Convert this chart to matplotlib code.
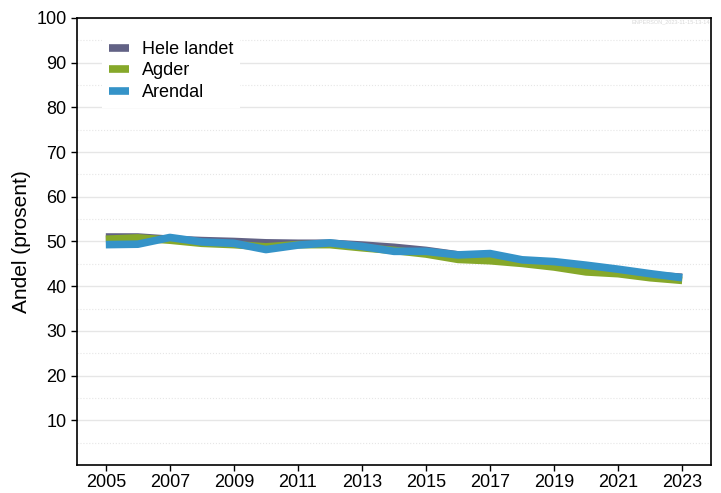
import numpy as np
import matplotlib.pyplot as plt
from matplotlib.ticker import MultipleLocator

plt.rcParams['font.family'] = ['Liberation Sans', 'DejaVu Sans']

# ===== Data =====
years = list(range(2005, 2024))
hele_landet = [51.0, 51.0, 50.5, 50.2, 50.0, 49.7, 49.6, 49.6, 49.2, 48.7,
               48.0, 47.0, 46.6, 45.6, 45.0, 44.0, 43.5, 42.5, 42.0]
agder = [50.5, 50.8, 50.3, 49.6, 49.3, 48.8, 49.3, 49.3, 48.6, 48.0,
         47.2, 46.0, 45.7, 45.1, 44.3, 43.2, 42.8, 41.9, 41.3]
arendal = [49.3, 49.4, 50.9, 49.9, 49.6, 48.2, 49.2, 49.7, 48.9, 47.8,
           47.8, 47.0, 47.3, 45.9, 45.5, 44.7, 43.8, 42.8, 41.9]

series = [('Hele landet', hele_landet, '#626285'),
          ('Agder', agder, '#86a82a'),
          ('Arendal', arendal, '#3593c8')]

fig = plt.figure(figsize=(7.21, 4.93), dpi=100)
ax = fig.add_axes([77/721, 28/493, 634/721, 447/493])

for label, vals, col in series:
    ax.plot(years, vals, color=col, lw=5.5, label=label,
            solid_joinstyle='round', solid_capstyle='butt')

ax.set_xlim(2004.1, 2023.9)
ax.set_ylim(0, 100)
ax.set_xticks(range(2005, 2024, 2))
ax.yaxis.set_minor_locator(MultipleLocator(5))
ax.set_yticks(range(10, 101, 10))
ax.grid(axis='y', which='major', color='#e6e6e6', lw=1)
ax.grid(axis='y', which='minor', color='#e6e6e6', lw=0.8, ls=':')
ax.set_axisbelow(True)
ax.tick_params(axis='both', labelsize=13, length=4, width=1)
ax.tick_params(axis='x', pad=2.5)
ax.tick_params(axis='y', which='minor', length=0)
for s in ax.spines.values():
    s.set_linewidth(1.2)

ax.set_ylabel('Andel (prosent)', fontsize=15)

leg = ax.legend(loc='upper left', bbox_to_anchor=(0.025, 0.985), frameon=True,
                fontsize=13, handlelength=1.1, handleheight=0.7,
                labelspacing=0.25, borderpad=0.4, handletextpad=0.7,
                fancybox=False)
leg.get_frame().set_edgecolor('none')
leg.get_frame().set_alpha(1)

fig.text(0.985, 0.955, 'ENPERSON_2023-11-15-13-14', fontsize=4,
         color='#d8d8d8', ha='right', va='center')

fig.savefig('out.png', dpi=100)
